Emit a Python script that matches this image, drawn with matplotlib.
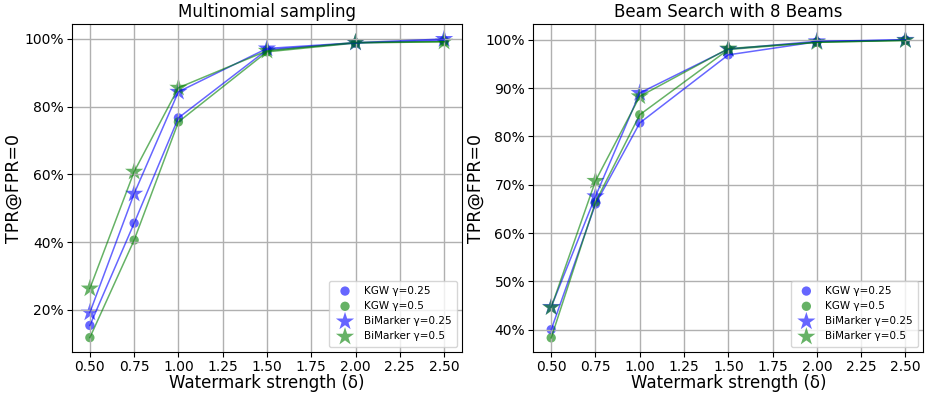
import matplotlib.pyplot as plt
from matplotlib.ticker import PercentFormatter

# Datos
delta = [0.5, 0.75, 1.0, 1.5, 2.0, 2.5]

# Multinomial sampling
multi_kgw_025 = [15.4, 45.6, 76.7, 96.8, 98.8, 99.6]
multi_kgw_05 = [11.8, 40.6, 75.5, 96.2, 98.8, 99.2]
multi_bi_025 = [19.2, 54.3, 84.4, 97.2, 98.9, 100.0]
multi_bi_05 = [26.3, 60.8, 85.6, 96.5, 99.0, 99.2]

# Beam search
beam_kgw_025 = [40.0, 66.0, 82.8, 96.9, 99.6, 100.0]
beam_kgw_05 = [38.3, 66.4, 84.5, 98.0, 99.5, 99.9]
beam_bi_025 = [44.7, 67.6, 89.0, 98.1, 99.7, 100.0]
beam_bi_05 = [44.6, 70.8, 88.3, 98.2, 99.5, 99.9]

series_labels = ["KGW γ=0.25", "KGW γ=0.5", "BiMarker γ=0.25", "BiMarker γ=0.5"]


def graficar(ax, datos, titulo, yticks):
    estilos = [("blue", "o", 45), ("green", "o", 45), ("blue", "*", 190), ("green", "*", 190)]
    for vals, lab, (col, mk, sz) in zip(datos, series_labels, estilos):
        ax.plot(delta, vals, color=col, alpha=0.6, linewidth=1.1)
        ax.scatter(delta, vals, color=col, alpha=0.6, marker=mk, s=sz, label=lab, edgecolors="none")
    ax.set_title(titulo, fontsize=12, pad=5)
    ax.set_xlabel("Watermark strength (δ)", fontsize=12, labelpad=0)
    ax.set_ylabel("TPR@FPR=0", fontsize=12.5, labelpad=1)
    ax.set_xticks([0.5, 0.75, 1.0, 1.25, 1.5, 1.75, 2.0, 2.25, 2.5])
    ax.set_yticks(yticks)
    ax.yaxis.set_major_formatter(PercentFormatter(decimals=0))
    ax.tick_params(labelsize=10, pad=2.5)
    ax.grid(True, color="#b0b0b0", linewidth=1)
    ax.legend(loc="lower right", fontsize=7.5, borderpad=0.5, handletextpad=0.8)


fig, (ax1, ax2) = plt.subplots(1, 2, figsize=(9.25, 3.94), dpi=100)
graficar(ax1, [multi_kgw_025, multi_kgw_05, multi_bi_025, multi_bi_05],
         "Multinomial sampling", [20, 40, 60, 80, 100])
graficar(ax2, [beam_kgw_025, beam_kgw_05, beam_bi_025, beam_bi_05],
         "Beam Search with 8 Beams", [40, 50, 60, 70, 80, 90, 100])
ax1.set_ylim(7.6, 104.3)
ax2.set_ylim(35.4, 103.2)
fig.subplots_adjust(left=0.078, right=0.998, top=0.938, bottom=0.107, wspace=0.184)
plt.savefig("out.png")
